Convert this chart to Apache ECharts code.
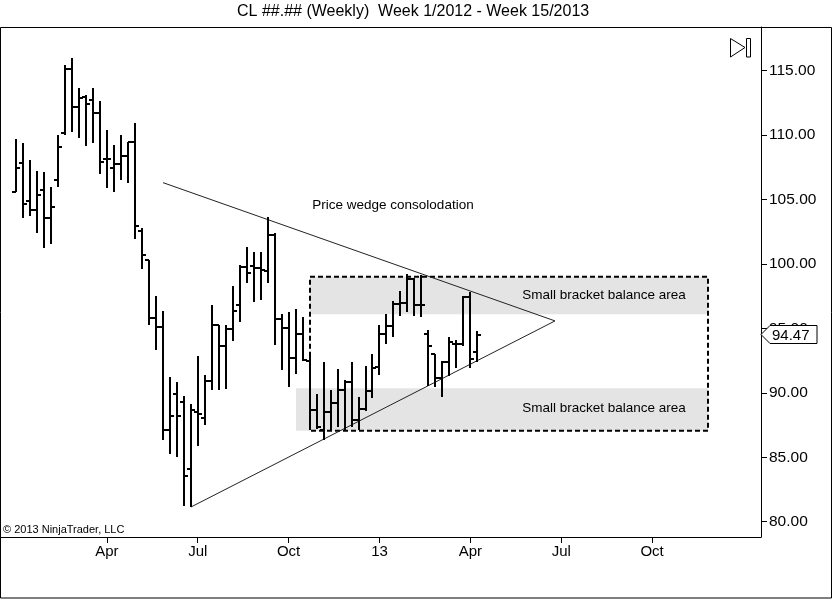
<!DOCTYPE html>
<html><head><meta charset="utf-8">
<script src="https://cdn.jsdelivr.net/npm/echarts@6/dist/echarts.min.js"></script>
<style>html,body{margin:0;padding:0;background:#fff}#c{width:835px;height:600px}</style>
</head><body><div id="c"></div>
<script>
// Weekly OHLC, week 1/2012 (index 0) .. week 15/2013 (index 66)
const openP  = [105.6,107.87,104.91,104.17,105.77,103.54,106.55,110.15,115.16,112.15,112.93,112.75,111.71,108.16,107.43,107.75,108.34,109.45,102.58,100.3,95.84,95.11,87.08,89.88,89.28,84.1,88.5,88.07,90.95,95.24,93.61,94.93,96.8,99.8,99.83,99.65,99.44,102.24,95.76,95.03,92.72,94.6,92.47,88.7,87.08,88.5,89.23,90.25,90.83,87.91,88.77,90.11,92.0,94.6,95.22,96.9,96.98,98.8,96.82,94.6,93.0,91.17,92.37,93.8,93.8,97.42,93.14];
const highP  = [109.71,109.38,108.08,107.22,107.12,105.98,110.02,115.47,115.99,113.65,113.13,113.65,112.67,110.41,109.2,110.02,109.5,110.93,102.77,100.3,97.5,96.33,91.22,90.83,89.72,89.15,92.83,91.41,96.8,95.24,95.24,98.3,99.9,101.3,100.95,100.95,103.67,102.37,96.15,96.28,96.54,95.9,93.2,89.93,92.39,90.19,91.88,90.97,92.39,89.67,92.05,93.0,95.3,96.12,97.16,97.94,99.23,98.88,99.15,94.9,93.0,92.5,94.3,94.1,97.5,97.84,94.83];
const lowP   = [105.6,103.59,103.7,102.4,101.21,101.57,106.0,110.02,110.23,109.76,109.12,109.38,106.96,105.93,105.56,106.52,106.26,101.93,99.58,95.24,93.35,86.35,85.27,85.05,81.24,81.11,85.91,87.47,90.19,90.25,90.32,94.0,95.48,98.49,97.08,97.19,98.49,93.69,91.8,90.45,91.49,92.5,87.08,87.21,86.3,87.08,87.34,87.08,87.34,87.08,88.58,89.62,91.4,93.79,94.31,96.0,96.26,96.0,95.9,90.5,90.45,89.64,91.33,91.9,93.67,91.9,92.42];
const closeP = [107.48,104.66,104.17,105.36,103.54,104.45,109.04,115.16,112.15,112.88,112.41,111.71,107.95,108.16,107.75,108.34,109.45,102.96,100.69,95.84,95.11,87.08,88.19,88.19,83.58,88.69,88.38,90.95,95.24,93.61,94.93,96.33,99.8,99.31,99.65,99.52,102.24,95.71,95.03,92.72,94.6,92.55,88.7,87.34,88.5,89.23,90.25,90.83,87.91,88.77,90.11,91.9,94.6,95.22,96.9,96.98,98.8,96.82,96.82,93.6,91.12,92.37,93.92,93.8,97.42,92.62,94.47];

const tickWeeks  = [13,26,39,52,65,78,91];
const tickLabels = ['Apr','Jul','Oct','13','Apr','Jul','Oct'];
const priceTicks = [80,85,90,95,100,105,110,115];

// annotations (week index, price)
const wedgeUpper = [[21.03,106.31],[77.11,95.58]];
const wedgeLower = [[25.04,81.14],[77.11,95.58]];
const bracketBox = [[42.06,99.01],[99.0,87.06]];
const upperBand  = [[42.06,99.01],[99.0,96.09]];
const lowerBand  = [[40.06,90.35],[99.0,87.06]];
const noteTexts  = ['Price wedge consolodation','Small bracket balance area','Small bracket balance area'];
const notePos    = [[53.93,104.58],[84.12,97.59],[84.12,88.82]];

const FONT = '"Liberation Sans", Arial, sans-serif';
const ohlc = openP.map((o,i)=>[i,o,highP[i],lowP[i],closeP[i]]);
const last = ohlc.length-1;

const chart = echarts.init(document.getElementById('c'), null, {renderer:'canvas'});
chart.setOption({
  animation:false,
  backgroundColor:'#fff',
  title:{text:'CL ##.## (Weekly)  Week 1/2012 - Week 15/2013', left:237, top:4, padding:0,
    textStyle:{fontFamily:FONT, fontSize:16, fontWeight:'normal', color:'#000'}},
  grid:{left:1, top:27, right:74, bottom:63},
  xAxis:{type:'value', min:-2.146, max:106.58,
    axisLine:{show:true, onZero:false, lineStyle:{color:'#000', width:1}},
    axisTick:{show:true, length:6, customValues:tickWeeks, lineStyle:{color:'#000'}},
    axisLabel:{customValues:tickWeeks, margin:7, fontFamily:FONT, fontSize:15, color:'#000',
      formatter:v=>tickLabels[tickWeeks.indexOf(Math.round(v))]},
    splitLine:{show:false}},
  yAxis:{type:'value', position:'right', min:78.81, max:118.39,
    axisLine:{show:true, onZero:false, lineStyle:{color:'#000', width:1}},
    axisTick:{show:true, length:6, customValues:priceTicks, lineStyle:{color:'#000'}},
    axisLabel:{customValues:priceTicks, margin:8, fontFamily:FONT, fontSize:15.5, color:'#000',
      formatter:v=>v.toFixed(2)},
    splitLine:{show:false}},
  graphic:[
    {type:'rect', shape:{x:0.5,y:27.5,width:831,height:570.5}, style:{fill:'none',stroke:'#000',lineWidth:1}, z:100},
    {type:'polygon', shape:{points:[[730.5,38.5],[745,47.5],[730.5,57]]}, style:{fill:'none',stroke:'#000',lineWidth:1}},
    {type:'rect', shape:{x:746.5,y:38.5,width:4,height:18.5}, style:{fill:'none',stroke:'#000',lineWidth:1}},
    {type:'text', x:3, y:530, style:{text:'© 2013 NinjaTrader, LLC', font:'11px '+FONT, fill:'#000', verticalAlign:'middle'}}
  ],
  series:[
    {type:'line', data:[], z:1,
      markArea:{silent:true, itemStyle:{color:'#e4e4e4'}, data:[
        [{coord:upperBand[0]},{coord:upperBand[1]}],
        [{coord:lowerBand[0]},{coord:lowerBand[1]}]
      ]}},
    {type:'line', data:[], z:2,
      markArea:{silent:true, itemStyle:{color:'rgba(0,0,0,0)', borderColor:'#000', borderWidth:2, borderType:[5,3]}, data:[
        [{coord:bracketBox[0]},{coord:bracketBox[1]}]
      ]}},
    {type:'line', data:wedgeUpper, symbol:'none', z:3, lineStyle:{color:'#222', width:1}},
    {type:'line', data:wedgeLower, symbol:'none', z:3, lineStyle:{color:'#222', width:1}},
    {type:'custom', z:5, data:ohlc,
      renderItem:(params, api)=>{
        const x=api.value(0);
        const pH=api.coord([x,api.value(2)]), pL=api.coord([x,api.value(3)]);
        const pO=api.coord([x,api.value(1)]), pC=api.coord([x,api.value(4)]);
        const X=Math.round(pH[0]);
        const yo=Math.round(pO[1]), yc=Math.round(pC[1]);
        const st={stroke:'#000', lineWidth:2};
        return {type:'group', children:[
          {type:'line', shape:{x1:X,y1:Math.round(pH[1]),x2:X,y2:Math.round(pL[1])}, style:st},
          {type:'line', shape:{x1:X-4,y1:yo,x2:X,y2:yo}, style:st},
          {type:'line', shape:{x1:X,y1:yc,x2:X+4,y2:yc}, style:st}
        ]};
      }},
    {type:'custom', z:6, data:notePos.map((p,i)=>[p[0],p[1],i]),
      renderItem:(params, api)=>{
        const p=api.coord([api.value(0),api.value(1)]);
        return {type:'text', style:{text:noteTexts[api.value(2)], x:p[0], y:p[1], align:'center', verticalAlign:'middle', font:'13.5px '+FONT, fill:'#000'}};
      }},
    {type:'custom', z:10, clip:false, data:[[last, closeP[last]]],
      renderItem:(params, api)=>{
        const y=Math.round(api.coord([api.value(0),api.value(1)])[1])-0.5;
        const xr=params.coordSys.x+params.coordSys.width;
        return {type:'group', children:[
          {type:'polygon', shape:{points:[[xr,y],[xr+9,y-9],[xr+56,y-9],[xr+56,y+9],[xr+9,y+9]]}, style:{fill:'#fff', stroke:'#000', lineWidth:1}},
          {type:'text', style:{text:api.value(1).toFixed(2), x:xr+11, y:y+1, verticalAlign:'middle', font:'15px '+FONT, fill:'#000'}}
        ]};
      }}
  ]
});
</script></body></html>
